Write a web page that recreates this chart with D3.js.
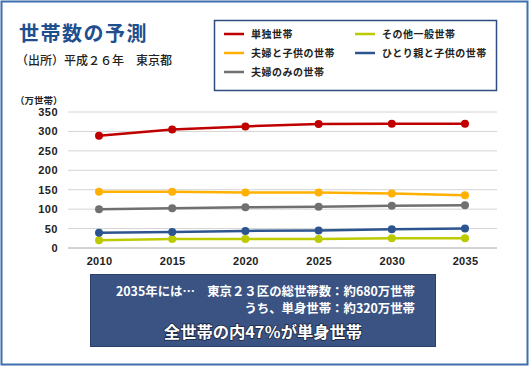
<!DOCTYPE html>
<html>
<head>
<meta charset="utf-8">
<script src="https://cdn.jsdelivr.net/npm/d3@7"></script>
<style>
  html, body { margin: 0; padding: 0; background: #fff; }
  svg { display: block; font-family: "Noto Sans CJK JP", "Noto Sans", sans-serif; }
</style>
</head>
<body>
<svg id="chart" width="530" height="367"></svg>
<script>
// ── DATA ─────────────────────────────────────────────────────────────────────
const years = ['2010', '2015', '2020', '2025', '2030', '2035'];
const seriesNames = ['単独世帯', '夫婦と子供の世帯', '夫婦のみの世帯', 'その他一般世帯', 'ひとり親と子供の世帯'];
const tanDoku   = [289, 305, 313, 319, 320, 320];
const fuufuKo   = [145, 145, 143, 143, 140, 136];
const fuufuNomi = [100, 102, 105, 106, 109, 110];
const sonota    = [20, 23, 23, 23, 25, 25];
const hitorioya = [39, 41, 44, 45, 48, 50];
const yTicks = [0, 50, 100, 150, 200, 250, 300, 350];

const seriesValues = [tanDoku, fuufuKo, fuufuNomi, sonota, hitorioya];
const colors = ['#c00000', '#ffb000', '#707070', '#bccb00', '#2c5590'];

// ── SETUP ────────────────────────────────────────────────────────────────────
const svg = d3.select('#chart');

// outer frame
svg.append('rect')
  .attr('x', 1.5).attr('y', 1.5).attr('width', 526).attr('height', 363)
  .attr('fill', '#fff').attr('stroke', '#3f6fae').attr('stroke-width', 2);

// title
svg.append('text').attr('x', 19).attr('y', 41)
  .attr('font-size', 20).attr('font-weight', 700).attr('fill', '#1f4f8e')
  .attr('letter-spacing', 1.5)
  .text('世帯数の予測');
svg.append('text').attr('x', 16).attr('y', 65)
  .attr('font-size', 12).attr('font-weight', 500).attr('fill', '#222')
  .text('（出所）平成２６年　東京都');

// scales
const x = d3.scalePoint().domain(years).range([99, 465]);
const y = d3.scaleLinear().domain([0, 350]).range([248, 112]);
const gridX0 = 68, gridX1 = 497;

// grid
svg.append('g').selectAll('line')
  .data(yTicks)
  .join('line')
  .attr('x1', gridX0).attr('x2', gridX1)
  .attr('y1', d => y(d)).attr('y2', d => y(d))
  .attr('stroke', d => d === 0 ? '#a6a6a6' : '#d4d4d4')
  .attr('stroke-width', 1);

// y axis labels
const yAxis = svg.append('g').attr('transform', `translate(${gridX0 - 10},0)`)
  .call(d3.axisLeft(y).tickValues(yTicks).tickSize(0).tickPadding(0));
yAxis.select('.domain').remove();
yAxis.selectAll('text')
  .attr('font-size', 11).attr('font-weight', 700).attr('fill', '#222')
  .attr('letter-spacing', 0.5)
  .attr('font-family', '"Liberation Sans", Arial, sans-serif');

svg.append('text').attr('x', 15).attr('y', 104)
  .attr('font-size', 9.5).attr('font-weight', 700).attr('fill', '#222')
  .text('（万世帯）');

// x axis labels
const xAxis = svg.append('g').attr('transform', 'translate(0,257)')
  .call(d3.axisBottom(x).tickSize(0).tickPadding(0));
xAxis.select('.domain').remove();
xAxis.selectAll('text')
  .attr('font-size', 11).attr('font-weight', 700).attr('fill', '#222')
  .attr('letter-spacing', 0.3)
  .attr('font-family', '"Liberation Sans", Arial, sans-serif');

// lines + markers
const line = d3.line().x((d, i) => x(years[i])).y(d => y(d));
const gSeries = svg.append('g').selectAll('g')
  .data(seriesValues)
  .join('g');
gSeries.append('path')
  .attr('d', d => line(d))
  .attr('fill', 'none')
  .attr('stroke', (d, i) => colors[i])
  .attr('stroke-width', 2.5);
gSeries.each(function(vals, si) {
  d3.select(this).selectAll('circle')
    .data(vals)
    .join('circle')
    .attr('cx', (d, i) => x(years[i]))
    .attr('cy', d => y(d))
    .attr('r', 4)
    .attr('fill', colors[si]);
});

// legend
svg.append('rect')
  .attr('x', 214.5).attr('y', 20.5).attr('width', 282).attr('height', 70)
  .attr('fill', '#fff').attr('stroke', '#2d4d80').attr('stroke-width', 1.5);
const legendPos = [
  [224, 34], [224, 53], [224, 72], [355, 34], [355, 53]
];
const legend = svg.append('g').selectAll('g')
  .data(seriesNames)
  .join('g')
  .attr('transform', (d, i) => `translate(${legendPos[i][0]},${legendPos[i][1]})`);
legend.append('line')
  .attr('x1', 0).attr('x2', 20).attr('y1', 0).attr('y2', 0)
  .attr('stroke', (d, i) => colors[i]).attr('stroke-width', 2.5);
legend.append('text')
  .attr('x', 27).attr('y', 4)
  .attr('font-size', 10).attr('font-weight', 700).attr('fill', '#222')
  .attr('letter-spacing', 0.5)
  .text(d => d);

// summary box
svg.append('rect')
  .attr('x', 90.5).attr('y', 274.5).attr('width', 345).attr('height', 72)
  .attr('fill', '#3b5383').attr('stroke', '#2a3f6a').attr('stroke-width', 1);
const note = svg.append('g').attr('fill', '#fff').attr('font-weight', 700);
note.append('text').attr('x', 415).attr('y', 296).attr('text-anchor', 'end')
  .attr('font-size', 12.4)
  .text('2035年には…　東京２３区の総世帯数：約680万世帯');
note.append('text').attr('x', 415).attr('y', 313).attr('text-anchor', 'end')
  .attr('font-size', 12.4)
  .text('うち、単身世帯：約320万世帯');
note.append('text').attr('x', 263).attr('y', 338).attr('text-anchor', 'middle')
  .attr('font-size', 16.3)
  .style('paint-order', 'stroke').attr('stroke', '#1a2640').attr('stroke-width', 1.5)
  .text('全世帯の内47％が単身世帯');
</script>
</body>
</html>
